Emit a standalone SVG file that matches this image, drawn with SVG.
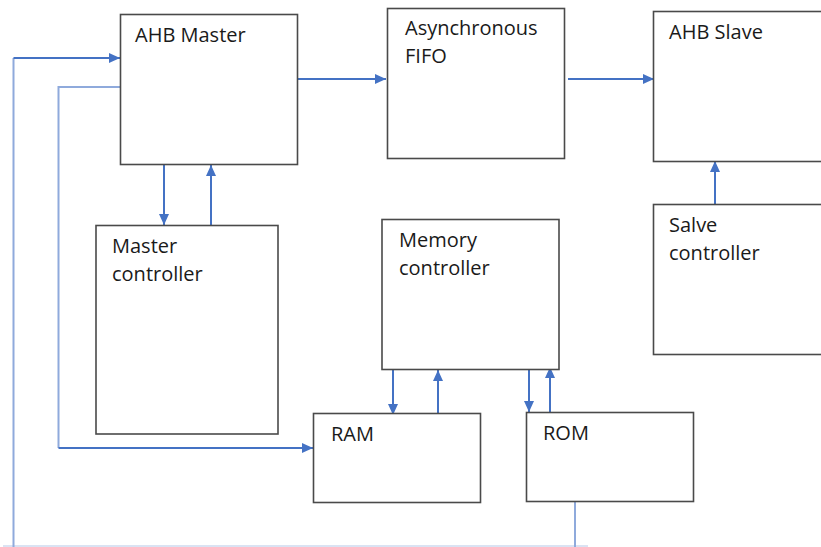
<svg xmlns="http://www.w3.org/2000/svg" width="821" height="547" viewBox="0 0 821 547">
  <defs>
    <marker id="arrow" viewBox="0 0 11 10" refX="11" refY="5" markerWidth="11" markerHeight="10" markerUnits="userSpaceOnUse" orient="auto">
      <path d="M0,0 L11,5 L0,10 Z" fill="#4472c4"/>
    </marker>
    <style>
      .box { fill: #ffffff; stroke: #4a4a4a; stroke-width: 1.6; }
      .label { font-family: "Open Sans", "Liberation Sans", sans-serif; font-size: 20px; fill: #1a1a1a; }
      .wire { fill: none; stroke: #4472c4; stroke-width: 2; }
      .wire-soft { fill: none; stroke: #8faadc; stroke-width: 2; }
      .wire-faint { fill: none; stroke: #dae3f3; stroke-width: 2; }
      .arrowed { marker-end: url(#arrow); }
    </style>
  </defs>
  <rect width="821" height="547" fill="#ffffff"/>

  <!-- connectors -->
  <g id="connectors">
    <!-- outer feedback loop from ROM back to AHB Master -->
    <path class="wire-faint" d="M3,546 L588,546"/>
    <path class="wire-soft" d="M575,502 L575,547"/>
    <path class="wire-soft" d="M13.5,547 L13.5,58"/>
    <path class="wire arrowed" d="M13.5,58 L120,58"/>
    <!-- AHB Master to RAM -->
    <path class="wire-soft" d="M120,87 L58.5,87 L58.5,448"/>
    <path class="wire arrowed" d="M58.5,448 L313,448"/>
    <!-- data path -->
    <path class="wire arrowed" d="M297,79 L386,79"/>
    <path class="wire arrowed" d="M568,79 L654,79"/>
    <!-- AHB Master / Master controller -->
    <path class="wire arrowed" d="M164,165 L164,225"/>
    <path class="wire arrowed" d="M211,225 L211,165"/>
    <!-- Salve controller to AHB Slave -->
    <path class="wire arrowed" d="M715,204 L715,161"/>
    <!-- Memory controller / RAM -->
    <path class="wire arrowed" d="M393,369 L393,415"/>
    <path class="wire arrowed" d="M438,413 L438,370"/>
    <!-- Memory controller / ROM -->
    <path class="wire arrowed" d="M529,369 L529,412"/>
    <path class="wire arrowed" d="M550,413 L550,367"/>
  </g>

  <g id="ahb-master">
    <rect class="box" x="120.5" y="14.5" width="177" height="150"/>
    <text class="label" x="135" y="42">AHB Master</text>
  </g>

  <g id="async-fifo">
    <rect class="box" x="387.5" y="8.5" width="177" height="150"/>
    <text class="label" x="405" y="35">Asynchronous</text>
    <text class="label" x="405" y="63">FIFO</text>
  </g>

  <g id="ahb-slave">
    <rect class="box" x="653.5" y="11.5" width="180" height="150"/>
    <text class="label" x="669" y="39">AHB Slave</text>
  </g>

  <g id="master-controller">
    <rect class="box" x="96" y="225.5" width="182" height="208.5"/>
    <text class="label" x="112" y="253">Master</text>
    <text class="label" x="112" y="281">controller</text>
  </g>

  <g id="memory-controller">
    <rect class="box" x="382" y="219.5" width="177" height="150"/>
    <text class="label" x="399" y="247">Memory</text>
    <text class="label" x="399" y="275">controller</text>
  </g>

  <g id="salve-controller">
    <rect class="box" x="653.5" y="204.5" width="180" height="150"/>
    <text class="label" x="669" y="232">Salve</text>
    <text class="label" x="669" y="260">controller</text>
  </g>

  <g id="ram">
    <rect class="box" x="313.5" y="413.5" width="167" height="89"/>
    <text class="label" x="331" y="441">RAM</text>
  </g>

  <g id="rom">
    <rect class="box" x="526.5" y="412.5" width="167" height="89"/>
    <text class="label" x="543" y="440">ROM</text>
  </g>
</svg>
